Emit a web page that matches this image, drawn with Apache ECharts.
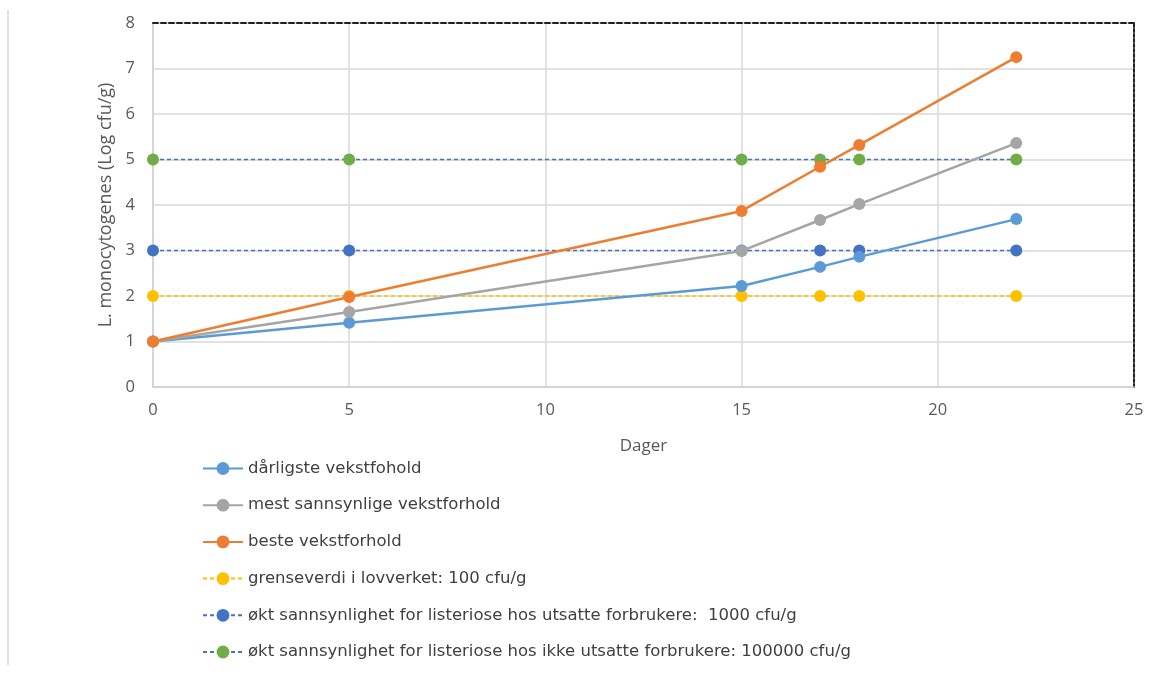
<!DOCTYPE html>
<html><head><meta charset="utf-8">
<script src="https://cdn.jsdelivr.net/npm/echarts@6/dist/echarts.min.js"></script>
<style>html,body{margin:0;padding:0;background:#fff}#c{width:1155px;height:675px}</style>
</head><body><div id="c"></div>
<script>
const days = [0, 5, 15, 17, 18, 22];
const worst = [1.0, 1.41, 2.22, 2.64, 2.86, 3.69];
const likely = [1.0, 1.65, 2.99, 3.67, 4.02, 5.36];
const best = [1.0, 1.98, 3.87, 4.84, 5.32, 7.25];
const limit100 = [2, 2, 2, 2, 2, 2];
const limit1000 = [3, 3, 3, 3, 3, 3];
const limit100000 = [5, 5, 5, 5, 5, 5];
const names = [
  'dårligste vekstfohold',
  'mest sannsynlige vekstforhold',
  'beste vekstforhold',
  'grenseverdi i lovverket: 100 cfu/g',
  'økt sannsynlighet for listeriose hos utsatte forbrukere:  1000 cfu/g',
  'økt sannsynlighet for listeriose hos ikke utsatte forbrukere: 100000 cfu/g'
];
const FONT = 'Open Sans';
const LFONT = 'DejaVu Sans';
function pts(v){ return days.map((d,i)=>[d,v[i]]); }
function solid(name, data, color){
  return {name, type:'line', data:pts(data), symbol:'circle', symbolSize:12,
    itemStyle:{color}, lineStyle:{color, width:2.5}, z:3};
}
function dashed(name, data, color, lineColor){
  return {name, type:'line', data:pts(data), symbol:'circle', symbolSize:12,
    itemStyle:{color}, lineStyle:{color:lineColor, width:1.5, type:[4,3]}, z:2};
}
const chart = echarts.init(document.getElementById('c'));
chart.setOption({
  animation:false,
  textStyle:{fontFamily:FONT},
  grid:{left:153, right:21, top:23, bottom:288},
  xAxis:[{
    type:'value', min:0, max:25, interval:5,
    name:'Dager', nameLocation:'middle', nameGap:51,
    nameTextStyle:{color:'#595959', fontSize:17, fontFamily:FONT},
    axisLine:{show:true, onZero:false, lineStyle:{color:'#d0d0d0', width:1.5}},
    axisTick:{show:false},
    axisLabel:{color:'#595959', fontSize:16.5, margin:15, fontFamily:FONT},
    splitLine:{show:true, lineStyle:{color:'#d9d9d9', width:1.5}}
  },{
    type:'value', min:0, max:25, interval:5, position:'top',
    axisLine:{show:true, onZero:false, lineStyle:{color:'#222', width:2, type:[5,3]}},
    axisTick:{show:false}, axisLabel:{show:false}, splitLine:{show:false}
  }],
  yAxis:[{
    type:'value', min:0, max:8, interval:1,
    name:'L. monocytogenes (Log cfu/g)', nameLocation:'middle', nameGap:35,
    nameTextStyle:{color:'#595959', fontSize:18, fontFamily:FONT},
    axisLine:{show:true, onZero:false, lineStyle:{color:'#d0d0d0', width:1.5}},
    axisTick:{show:false},
    axisLabel:{color:'#595959', fontSize:16.5, margin:18, fontFamily:FONT},
    splitLine:{show:true, lineStyle:{color:'#d9d9d9', width:1.5}}
  },{
    type:'value', min:0, max:8, interval:1, position:'right',
    axisLine:{show:true, onZero:false, lineStyle:{color:'#222', width:2, type:[3,2]}},
    axisTick:{show:false}, axisLabel:{show:false}, splitLine:{show:false}
  }],
  legend:{
    orient:'vertical', left:197, top:455, itemGap:19.7,
    itemWidth:40, itemHeight:16,
    textStyle:{color:'#404040', fontSize:16.5, fontFamily:LFONT},
    data:names
  },
  graphic:[{type:'line', shape:{x1:8, y1:10, x2:8, y2:665}, style:{stroke:'#d8d8d8', lineWidth:1.5}}],
  series:[
    dashed(names[3], limit100, '#FFC000', '#FFC000'),
    dashed(names[4], limit1000, '#4472C4', '#4472C4'),
    dashed(names[5], limit100000, '#70AD47', '#4472C4'),
    solid(names[0], worst, '#5B9BD5'),
    solid(names[1], likely, '#A5A5A5'),
    solid(names[2], best, '#ED7D31')
  ]
});
</script></body></html>
